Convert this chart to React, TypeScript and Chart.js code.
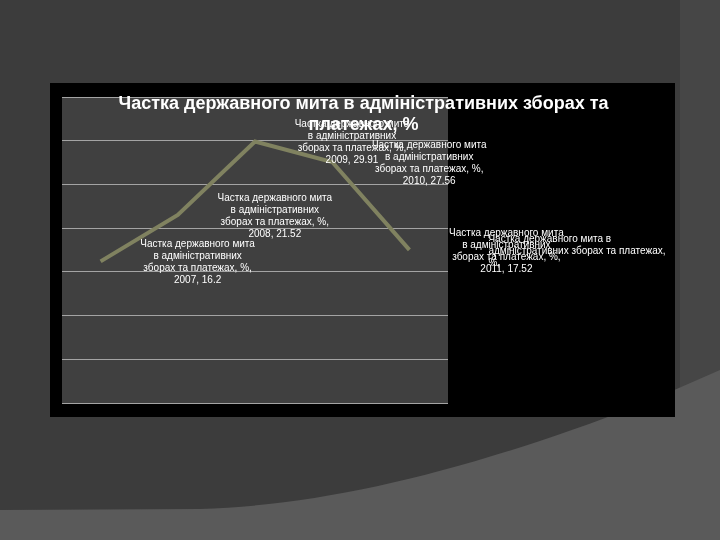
import React, { useEffect, useRef } from "react";
import { Chart, registerables } from "chart.js";

Chart.register(...registerables);

const categories = ["2007", "2008", "2009", "2010", "2011"];
const values = [16.2, 21.52, 29.91, 27.56, 17.52];
const seriesName = "Частка державного мита в адміністративних зборах та платежах, %";
const titleLines = ["Частка державного мита в адміністративних зборах та", "платежах, %"];
const labelLines = ["Частка державного мита", "в адміністративних", "зборах та платежах, %,"];
const extraLabelLines = ["Частка державного мита в", "адміністративних зборах та платежах,", "%,"];
const yMin = 0;
const yMax = 35;
const yStep = 5;

const LABEL_FONT = "10px 'Liberation Sans', Arial, sans-serif";
const TITLE_FONT = "bold 18px 'Liberation Sans', Arial, sans-serif";

const framePlugin = {
  id: "framePlugin",
  beforeDraw(chart: any) {
    const { ctx, chartArea, width, height } = chart;
    ctx.save();
    ctx.fillStyle = "#000000";
    ctx.fillRect(0, 0, width, height);
    ctx.fillStyle = "#404040";
    ctx.fillRect(chartArea.left, chartArea.top, chartArea.right - chartArea.left, chartArea.bottom - chartArea.top);
    ctx.restore();
  },
};

const labelPlugin = {
  id: "labelPlugin",
  afterDatasetsDraw(chart: any) {
    const { ctx } = chart;
    const meta = chart.getDatasetMeta(0);
    ctx.save();
    ctx.fillStyle = "#ffffff";
    ctx.font = LABEL_FONT;
    ctx.textBaseline = "middle";
    const lh = 12;
    meta.data.forEach((pt: any, i: number) => {
      const lines = [...labelLines, `${categories[i]}, ${values[i]}`];
      const cx = pt.x + 97;
      const top = pt.y - ((lines.length - 1) * lh) / 2 + 1;
      ctx.textAlign = "center";
      lines.forEach((l, k) => ctx.fillText(l, cx, top + k * lh));
      if (i === values.length - 1) {
        ctx.textAlign = "left";
        extraLabelLines.forEach((l, k) => ctx.fillText(l, pt.x + 79, pt.y - 11 + k * lh));
      }
    });
    ctx.restore();
  },
  afterDraw(chart: any) {
    const { ctx, width } = chart;
    ctx.save();
    ctx.fillStyle = "#ffffff";
    ctx.font = TITLE_FONT;
    ctx.textAlign = "center";
    ctx.textBaseline = "middle";
    const cx = width / 2 + 1;
    ctx.fillText(titleLines[0], cx, 21);
    ctx.fillText(titleLines[1], cx, 42);
    ctx.restore();
  },
};

export default function App() {
  const ref = useRef<HTMLCanvasElement | null>(null);

  useEffect(() => {
    if (!ref.current) return;
    const chart = new Chart(ref.current, {
      type: "line",
      data: {
        labels: categories,
        datasets: [
          {
            label: seriesName,
            data: values,
            borderColor: "#808260",
            borderWidth: 4,
            pointRadius: 0,
            pointHoverRadius: 0,
            tension: 0,
            fill: false,
          },
        ],
      },
      options: {
        animation: false,
        responsive: false,
        maintainAspectRatio: false,
        devicePixelRatio: 1,
        layout: { padding: { left: 12, right: 227, top: 14, bottom: 6 } },
        plugins: {
          legend: { display: false },
          title: { display: false },
          tooltip: { enabled: false },
        },
        scales: {
          x: {
            type: "category",
            offset: true,
            grid: { display: false },
            border: { display: false },
            ticks: { display: false },
          },
          y: {
            min: yMin,
            max: yMax,
            ticks: { display: false, stepSize: yStep },
            grid: { color: "#a4a4a4", lineWidth: 1, drawTicks: false },
            border: { display: false },
          },
        },
      },
      plugins: [framePlugin, labelPlugin],
    });
    return () => chart.destroy();
  }, []);

  return (
    <div style={{ position: "absolute", left: 0, top: 0, width: 720, height: 540, overflow: "hidden", background: "#3c3c3c" }}>
      <svg width={720} height={540} style={{ position: "absolute", left: 0, top: 0 }}>
        <rect x={680} y={0} width={40} height={540} fill="#464646" />
        <path d="M0,510 L200,509 C330,505 470,470 640,405 L720,370 L720,540 L0,540 Z" fill="#5a5a5a" />
      </svg>
      <canvas
        ref={ref}
        width={625}
        height={334}
        style={{ position: "absolute", left: 50, top: 83, width: 625, height: 334 }}
      />
    </div>
  );
}
